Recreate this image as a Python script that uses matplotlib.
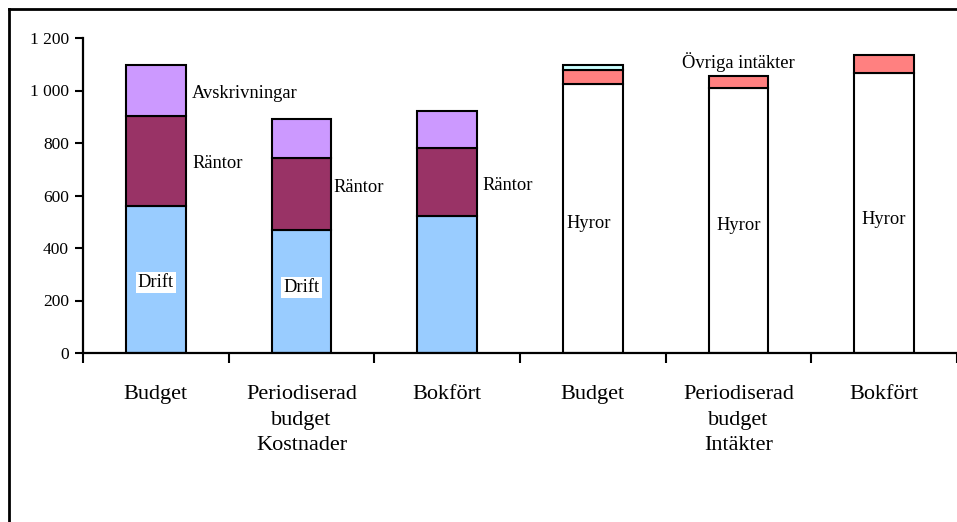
import matplotlib
matplotlib.use("Agg")
import matplotlib.pyplot as plt
from matplotlib.lines import Line2D
import numpy as np

plt.rcParams['font.family'] = ['Liberation Serif', 'DejaVu Serif']

categories = ["Budget", "Periodiserad\nbudget\nKostnader", "Bokfört",
              "Budget", "Periodiserad\nbudget\nIntäkter", "Bokfört"]

# cost series (first three bars)
drift = [561, 469, 522, 0, 0, 0]
rantor = [343, 275, 259, 0, 0, 0]
avskrivningar = [192, 147, 141, 0, 0, 0]
# revenue series (last three bars)
hyror = [0, 0, 0, 1023, 1009, 1065]
ovriga = [0, 0, 0, 55, 48, 69]
ovrigt2 = [0, 0, 0, 18, 0, 0]

yticks = [0, 200, 400, 600, 800, 1000, 1200]
ytick_labels = ["0", "200", "400", "600", "800", "1 000", "1 200"]

W, H = 957, 522
fig = plt.figure(figsize=(W / 100, H / 100), dpi=100)
ax = fig.add_axes([83 / W, 1 - 353 / H, (957 - 83) / W, (353 - 38) / H])

x = np.arange(len(categories))
bw = 0.41
ec = 'black'
lw = 1.5

d = np.array(drift); r = np.array(rantor); a = np.array(avskrivningar)
h = np.array(hyror); o = np.array(ovriga); o2 = np.array(ovrigt2)

cost = x[:3]
ax.bar(cost, d[:3], bw, color='#99CCFF', edgecolor=ec, linewidth=lw)
ax.bar(cost, r[:3], bw, bottom=d[:3], color='#993366', edgecolor=ec, linewidth=lw)
ax.bar(cost, a[:3], bw, bottom=(d + r)[:3], color='#CC99FF', edgecolor=ec, linewidth=lw)

rev = x[3:]
ax.bar(rev, h[3:], bw, color='white', edgecolor=ec, linewidth=lw)
ax.bar(rev, o[3:], bw, bottom=h[3:], color='#FF8080', edgecolor=ec, linewidth=lw)
m = o2[3:] > 0
ax.bar(rev[m], o2[3:][m], bw, bottom=(h + o)[3:][m], color='#CCFFFF', edgecolor=ec, linewidth=lw)

ax.set_xlim(-0.5, 5.5)
ax.set_ylim(0, 1200)

for s in ['top', 'right']:
    ax.spines[s].set_visible(False)
for s in ['left', 'bottom']:
    ax.spines[s].set_linewidth(1.6)

ax.set_yticks(yticks)
ax.set_yticklabels(ytick_labels, fontsize=12.5)
ax.tick_params(axis='y', direction='out', length=6, width=1.5, pad=4)

ax.set_xticks(np.arange(-0.5, 6, 1.0))
ax.set_xticklabels([])
ax.tick_params(axis='x', which='major', direction='out', length=7, width=1.5)
ax.set_xticks(x, minor=True)
ax.set_xticklabels(categories, minor=True, fontsize=16, linespacing=1.48)
ax.tick_params(axis='x', which='minor', length=0, pad=23)

fs = 13.3
ax.text(0.25, 990, "Avskrivningar", fontsize=fs, ha='left', va='center')
ax.text(0.25, 720, "Räntor", fontsize=fs, ha='left', va='center')
ax.text(1.22, 629, "Räntor", fontsize=fs, ha='left', va='center')
ax.text(2.24, 640, "Räntor", fontsize=fs, ha='left', va='center')
for xi, yi in [(0, 270), (1, 248)]:
    ax.text(xi, yi, "Drift", fontsize=fs, ha='center', va='center',
            bbox=dict(facecolor='white', edgecolor='none', pad=1.5))
for xi, yi in [(2.97, 493), (4, 486), (5, 509)]:
    ax.text(xi, yi, "Hyror", fontsize=fs, ha='center', va='center')
ax.text(4, 1110, "Övriga intäkter", fontsize=fs, ha='center', va='center')

# outer frame (left and top edges)
fig.add_artist(Line2D([9 / W, 9 / W], [0, 1 - 9 / H], color='black', linewidth=2))
fig.add_artist(Line2D([9 / W, 1], [1 - 9 / H, 1 - 9 / H], color='black', linewidth=2))

fig.savefig("out.png", dpi=100)
